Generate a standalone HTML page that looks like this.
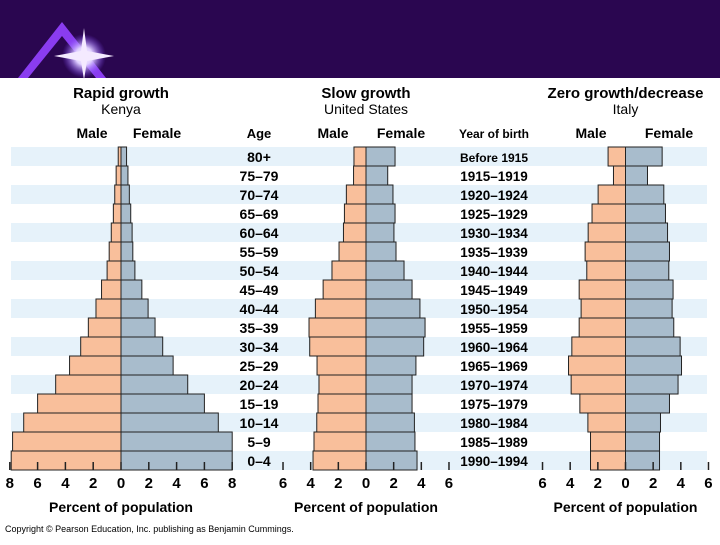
<!DOCTYPE html>
<html><head><meta charset="utf-8"><style>
body{margin:0;width:720px;height:540px;overflow:hidden;background:#fff;font-family:"Liberation Sans",sans-serif}
svg text{font-family:"Liberation Sans",sans-serif}
</style></head><body>
<svg id="chart" width="720" height="540" viewBox="0 0 720 540" xmlns="http://www.w3.org/2000/svg">
<defs><radialGradient id="glow"><stop offset="0" stop-color="#fff"/><stop offset="0.4" stop-color="#e0d0ff"/><stop offset="1" stop-color="#7a3cff" stop-opacity="0"/></radialGradient></defs>
<rect x="0" y="0" width="720" height="78" fill="#2a0650"/>
<g>
<polygon points="18,78 62,22 106,78 96,78 62,36 28,78" fill="#8a3cf0"/>
<circle cx="84" cy="56" r="22" fill="url(#glow)"/>
<polygon points="84,28 87,51 114,56 87,61 84,80 81,61 54,56 81,51" fill="#f4eaff"/>
</g>
<g id="layer"></g>
<text x="5" y="532" font-size="9" fill="#000">Copyright © Pearson Education, Inc.  publishing as Benjamin Cummings.</text>
</svg>
<script>
const ageLabels=["80+","75–79","70–74","65–69","60–64","55–59","50–54","45–49","40–44","35–39","30–34","25–29","20–24","15–19","10–14","5–9","0–4"];
const yearLabels=["Before 1915","1915–1919","1920–1924","1925–1929","1930–1934","1935–1939","1940–1944","1945–1949","1950–1954","1955–1959","1960–1964","1965–1969","1970–1974","1975–1979","1980–1984","1985–1989","1990–1994"];
const kenyaMale=[0.2,0.35,0.45,0.55,0.7,0.85,1.0,1.4,1.8,2.35,2.9,3.7,4.7,6.0,7.0,7.8,7.9];
const kenyaFemale=[0.4,0.5,0.6,0.7,0.8,0.85,1.0,1.5,1.95,2.45,3.0,3.75,4.8,6.0,7.0,8.0,8.0];
const usMale=[0.87,0.9,1.42,1.56,1.63,1.95,2.46,3.1,3.66,4.12,4.07,3.54,3.4,3.47,3.56,3.76,3.83];
const usFemale=[2.1,1.57,1.95,2.1,2.02,2.17,2.75,3.33,3.9,4.27,4.17,3.61,3.33,3.33,3.5,3.54,3.69];
const italyMale=[1.26,0.87,1.98,2.42,2.7,2.92,2.8,3.35,3.21,3.35,3.88,4.12,3.93,3.3,2.72,2.53,2.53];
const italyFemale=[2.65,1.59,2.77,2.89,3.04,3.18,3.13,3.44,3.37,3.49,3.95,4.05,3.8,3.18,2.53,2.46,2.46];
const kenyaTicks=[8,6,4,2,0,2,4,6,8];
const sixTicks=[6,4,2,0,2,4,6];

const NS="http://www.w3.org/2000/svg";
const L=document.getElementById('layer');
function mk(tag,attrs,parent){const e=document.createElementNS(NS,tag);for(const k in attrs)e.setAttribute(k,attrs[k]);(parent||L).appendChild(e);return e;}
const top0=147,rowH=19;
function yRow(i){return top0+i*rowH;}
// stripes
for(let i=0;i<ageLabels.length;i+=2){
  const s=mk('rect',{x:11,y:yRow(i),width:696,height:rowH,fill:'#e6f2fa'});
  
  
}
function txt(x,y,t,size,anchor,weight){const e=mk('text',{x:x,y:y,'font-size':size,'text-anchor':anchor||'middle','font-weight':weight||'bold',fill:'#000'});e.textContent=t;return e;}
function pyramid(name,cx,scale,males,females,ticks,title,sub,maleX,femX){
  const g=mk('g',{});
  
  
  const xs=v=>v*scale;
  let t=txt(cx,98,title,15);g.appendChild(t);
  t=txt(cx,114,sub,14,'middle','normal');g.appendChild(t);
  t=txt(maleX,138,'Male',14);g.appendChild(t);
  t=txt(femX,138,'Female',14);g.appendChild(t);
  for(let i=0;i<males.length;i++){
    const m=mk('rect',{x:cx-xs(males[i]),y:yRow(i),width:xs(males[i]),height:rowH,fill:'#f9bf9b',stroke:'#222','stroke-width':1},g);
    
    
    const f=mk('rect',{x:cx,y:yRow(i),width:xs(females[i]),height:rowH,fill:'#a8bccc',stroke:'#222','stroke-width':1},g);
    
    
  }
  const n=ticks.length, mid=(n-1)/2;
  for(let k=0;k<n;k++){
    const v=(k-mid)*2, x=cx+xs(v);
    const tk=mk('line',{x1:x,x2:x,y1:462,y2:470,stroke:'#222','stroke-width':1.5},g);
    
    
    const tl=txt(x,488,String(ticks[k]),15);
    
    
    g.appendChild(tl);
  }
  t=txt(cx,512,'Percent of population',14);g.appendChild(t);
}
pyramid('kenya',121,13.9,kenyaMale,kenyaFemale,kenyaTicks,'Rapid growth','Kenya',92,157);
pyramid('us',366,13.83,usMale,usFemale,sixTicks,'Slow growth','United States',333,401);
pyramid('italy',625.5,13.83,italyMale,italyFemale,sixTicks,'Zero growth/decrease','Italy',591,669);
let h=txt(259,138,'Age',13);
h=txt(494,138,'Year of birth',12);
for(let i=0;i<ageLabels.length;i++){
  const a=txt(259,yRow(i)+15,ageLabels[i],14);
  
  
  const b=txt(494,yRow(i)+15,yearLabels[i],i===0?12:13.5);
  
  
}
</script>
</body></html>
